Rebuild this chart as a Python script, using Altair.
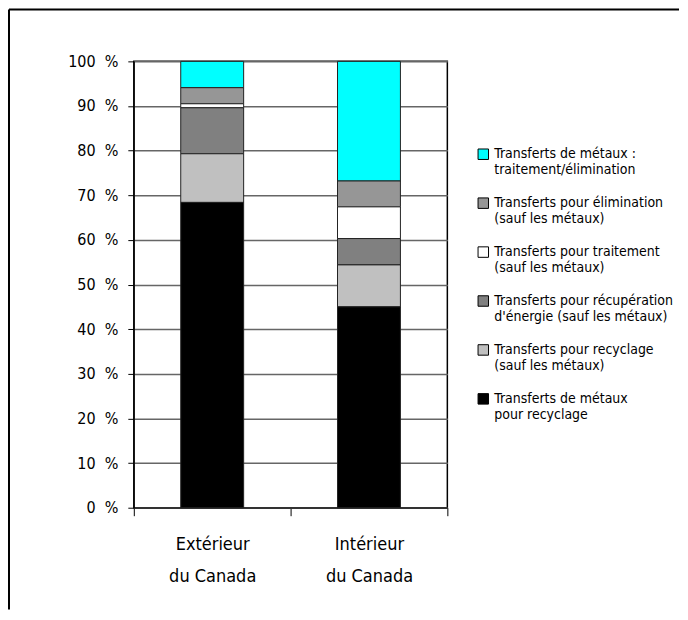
import altair as alt
import pandas as pd

categories = ["Extérieur\ndu Canada", "Intérieur\ndu Canada"]
series = [
    "Transferts de métaux :\ntraitement/élimination",
    "Transferts pour élimination\n(sauf les métaux)",
    "Transferts pour traitement\n(sauf les métaux)",
    "Transferts pour récupération\nd'énergie (sauf les métaux)",
    "Transferts pour recyclage\n(sauf les métaux)",
    "Transferts de métaux\npour recyclage",
]
colors = ["#00FFFF", "#969696", "#FFFFFF", "#808080", "#C0C0C0", "#000000"]
exterieur = [5.9, 3.6, 0.9, 10.3, 10.9, 68.4]
interieur = [26.8, 5.8, 7.1, 5.9, 9.4, 45.0]
y_ticks = [0, 10, 20, 30, 40, 50, 60, 70, 80, 90, 100]

rows = []
for cat, vals in zip(categories, [exterieur, interieur]):
    for i, (s, v) in enumerate(zip(series, vals)):
        rows.append({"cat": cat, "serie": s, "val": v, "ordre": len(series) - i})
df = pd.DataFrame(rows)

FONT = "Liberation Sans Narrow, DejaVu Sans Condensed, Roboto"

bars = alt.Chart(df).mark_bar(stroke="#222222", strokeWidth=1, size=63).encode(
    x=alt.X("cat:N", sort=categories,
            scale=alt.Scale(paddingInner=0, paddingOuter=0),
            axis=alt.Axis(title=None, labelAngle=0, labelExpr="split(datum.label, '\\n')",
                          labelFontSize=18, labelLineHeight=32, labelPadding=20,
                          tickBand="extent", tickSize=8, tickColor="black",
                          domainColor="#333333", domainWidth=1.5, grid=False,
                          labelColor="black", labelFont=FONT, labelBaseline="top")),
    y=alt.Y("val:Q", stack="zero",
            scale=alt.Scale(domain=[0, 100], nice=False),
            axis=alt.Axis(title=None, values=y_ticks, labelExpr="datum.value + '\u00a0 %'",
                          labelFontSize=16, labelPadding=10, tickSize=6, tickColor="black",
                          domainColor="black", gridColor="#666666", gridWidth=1.5,
                          labelColor="black", labelFont=FONT)),
    color=alt.Color("serie:N", sort=series,
                    scale=alt.Scale(domain=series, range=colors),
                    legend=alt.Legend(title=None, orient="none", legendX=343, legendY=86,
                                      symbolType="square", symbolSize=110,
                                      symbolStrokeColor="black", symbolStrokeWidth=1,
                                      symbolOpacity=1, labelFontSize=14, labelLimit=400,
                                      labelExpr="split(datum.label, '\\n')",
                                      labelFont=FONT, labelColor="black",
                                      labelOffset=4, rowPadding=18, labelBaseline="middle")),
    order=alt.Order("ordre:Q", sort="ascending"),
)

frame_data = alt.Data(values=[{"k": 1}])
left_line = alt.Chart(frame_data).mark_rule(color="black", strokeWidth=2).encode(
    x=alt.value(-125), y=alt.value(-52), y2=alt.value(549))
top_line = alt.Chart(frame_data).mark_rule(color="black", strokeWidth=2).encode(
    x=alt.value(-125), x2=alt.value(546), y=alt.value(-52))

chart = alt.layer(bars, left_line, top_line).properties(
    width=314, height=447, padding=0
).configure_view(stroke="black", strokeWidth=1.5)

chart.save("out.html", embed_options={"renderer": "svg", "actions": False})
